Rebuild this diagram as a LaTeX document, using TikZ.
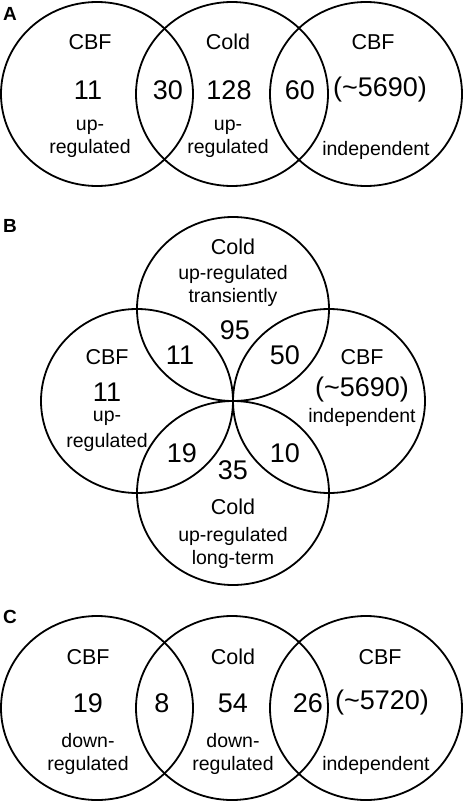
\documentclass[tikz,border=0pt]{standalone}
\usepackage{fontspec}
\setmainfont{Liberation Sans}
\begin{document}
\begin{tikzpicture}[x=1pt,y=-1pt,
    set/.style={draw,line width=1.8pt},
    head/.style={font=\fontsize{21.5}{25}\selectfont,inner sep=0pt},
    lbl/.style={font=\fontsize{19.5}{23}\selectfont,align=center,inner sep=0pt},
    num/.style={font=\fontsize{27}{30}\selectfont,inner sep=0pt},
    panel/.style={font=\fontsize{19}{22}\selectfont\bfseries,inner sep=0pt}]
    \useasboundingbox (0,0) rectangle (466,803);

    % panel A
    \node[panel] (pA) at (10,14) {A};
    \foreach \cx in {97,232,366}
        \draw[set] (\cx,94) ellipse [x radius=96,y radius=92];
    \node[head] (cbfA1) at (90,42) {CBF};
    \node[num] (nA1) at (88,90) {11};
    \node[lbl] (upA1) at (90,139) {up-\\regulated};
    \node[num] (nA2) at (168,90) {30};
    \node[head] (coldA) at (228,42) {Cold};
    \node[num] (nA3) at (229,90) {128};
    \node[lbl] (upA2) at (228,139) {up-\\regulated};
    \node[num] (nA4) at (300,90) {60};
    \node[head] (cbfA2) at (373,42) {CBF};
    \node[num] (nA5) at (380,90) {(\textasciitilde5690)};
    \node[lbl] (indA) at (376,150) {independent};

    % panel B
    \node[panel] (pB) at (10,226) {B};
    \foreach \cx/\cy in {233/309,137/401,329/401,233/493}
        \draw[set] (\cx,\cy) ellipse [x radius=96,y radius=92];
    \node[head] (coldB1) at (233,247) {Cold};
    \node[lbl] (upB1) at (233,286) {up-regulated\\transiently};
    \node[num] (nB1) at (235,330) {95};
    \node[num] (nB2) at (180,355) {11};
    \node[num] (nB3) at (285,355) {50};
    \node[head] (cbfB1) at (107,357) {CBF};
    \node[num] (nB4) at (107,392) {11};
    \node[lbl] (upB2) at (107,431) {up-\\[3pt]regulated};
    \node[head] (cbfB2) at (362,357) {CBF};
    \node[num] (nB5) at (362,390) {(\textasciitilde5690)};
    \node[lbl] (indB) at (362,417) {independent};
    \node[num] (nB6) at (182,453) {19};
    \node[num] (nB7) at (285,453) {10};
    \node[num] (nB8) at (233,470) {35};
    \node[head] (coldB2) at (233,507) {Cold};
    \node[lbl] (upB3) at (233,548) {up-regulated\\long-term};

    % panel C
    \node[panel] (pC) at (10,617) {C};
    \foreach \cx in {97,232,366}
        \draw[set] (\cx,708) ellipse [x radius=96,y radius=92];
    \node[head] (cbfC1) at (88,657) {CBF};
    \node[num] (nC1) at (88,703) {19};
    \node[lbl] (dnC1) at (88,754) {down-\\regulated};
    \node[num] (nC2) at (162,703) {8};
    \node[head] (coldC) at (233,657) {Cold};
    \node[num] (nC3) at (233,703) {54};
    \node[lbl] (dnC2) at (233,754) {down-\\regulated};
    \node[num] (nC4) at (308,703) {26};
    \node[head] (cbfC2) at (380,657) {CBF};
    \node[num] (nC5) at (382,703) {(\textasciitilde5720)};
    \node[lbl] (indC) at (376,765) {independent};
\end{tikzpicture}
\end{document}
